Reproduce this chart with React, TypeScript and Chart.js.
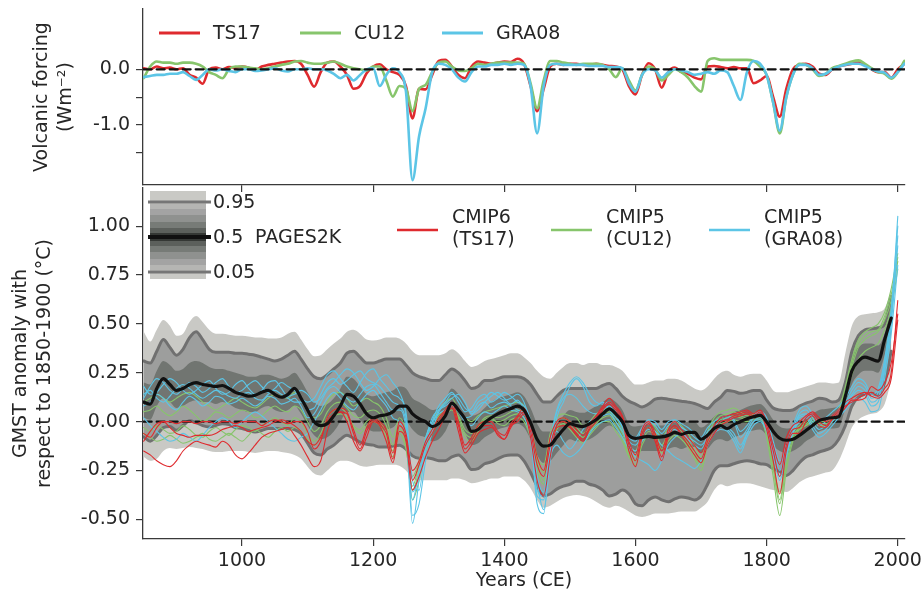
import React, { useEffect, useRef } from 'react';
import { Chart, registerables } from 'chart.js';
Chart.register(...registerables);

// ---------------- DATA ----------------
const xTicks = [1000, 1200, 1400, 1600, 1800, 2000];
const volcTicks = [-1.5, -1.0, -0.5, 0.0];
const gmstTicks = [-0.5, -0.25, 0, 0.25, 0.5, 0.75, 1.0];
const zeroYears = [850, 2010];
const zeroVals = [0, 0];

const volcLabels = ['TS17', 'CU12', 'GRA08'];
const cmipLabels = [['CMIP6', '(TS17)'], ['CMIP5', '(CU12)'], ['CMIP5', '(GRA08)']];
const pagesLabel = 'PAGES2K';
const pagesQuantLabels = ['0.95', '0.5', '0.05'];

const volcYears = [
  850, 860, 870, 880, 890,
  900, 910, 920, 930, 940, 950, 960, 970, 980, 990,
  1000, 1010, 1020, 1030, 1040, 1050, 1060, 1070, 1080, 1090,
  1100, 1110, 1120, 1130, 1140, 1150, 1160, 1170, 1180, 1190,
  1200, 1210, 1220, 1230, 1240, 1250, 1260, 1270, 1280, 1290,
  1300, 1310, 1320, 1330, 1340, 1350, 1360, 1370, 1380, 1390,
  1400, 1410, 1420, 1430, 1440, 1450, 1460, 1470, 1480, 1490,
  1500, 1510, 1520, 1530, 1540, 1550, 1560, 1570, 1580, 1590,
  1600, 1610, 1620, 1630, 1640, 1650, 1660, 1670, 1680, 1690,
  1700, 1710, 1720, 1730, 1740, 1750, 1760, 1770, 1780, 1790,
  1800, 1810, 1820, 1830, 1840, 1850, 1860, 1870, 1880, 1890,
  1900, 1910, 1920, 1930, 1940, 1950, 1960, 1970, 1980, 1990,
  2000, 2010,
];

const volcTS17 = [
  0.02, 0.0, 0.05, 0.02, 0.03,
  0.0, 0.02, -0.1, -0.15, -0.26, 0.0, 0.03, 0.0, 0.04, 0.03,
  0.05, 0.03, -0.02, 0.05, 0.08, 0.1, 0.12, 0.14, 0.15, 0.1,
  -0.1, -0.31, -0.05, 0.12, 0.14, 0.05, -0.1, -0.35, -0.3, -0.07,
  0.05, 0.09, 0.0, -0.05, -0.1, -0.3, -0.88, -0.35, -0.36, -0.1,
  0.15, 0.17, 0.05, -0.1, -0.16, 0.05, 0.14, 0.12, 0.1, 0.12,
  0.14, 0.13, 0.19, 0.1, -0.3, -0.75, -0.35, 0.05, 0.1, 0.08,
  0.1, 0.1, 0.08, 0.08, 0.1, 0.08, 0.06, 0.05, 0.0, -0.3,
  -0.45, -0.1, 0.11, 0.0, -0.33, -0.05, 0.03, -0.05, -0.08, -0.15,
  -0.18, 0.05, 0.06, 0.04, 0.02, 0.04, 0.02, 0.02, -0.25, -0.2,
  -0.12, -0.5, -0.85, -0.35, 0.0, 0.08, 0.1, 0.05, -0.08, -0.1,
  0.0, 0.05, 0.08, 0.1, 0.12, 0.08, 0.0, -0.05, -0.05, -0.15,
  0.0, 0.1,
];

const volcCU12 = [
  -0.16, 0.05, 0.14, 0.12, 0.12,
  0.1, 0.12, 0.12, 0.1, 0.05, -0.05, -0.1, -0.16, 0.0, 0.05,
  0.05, 0.03, 0.02, 0.0, 0.02, 0.05, 0.08, 0.1, 0.14, 0.15,
  0.12, 0.1, 0.1, 0.12, 0.14, 0.1, 0.05, 0.02, 0.0, -0.02,
  0.05, 0.05, -0.2, -0.49, -0.3, -0.35, -0.75, -0.35, -0.28, -0.05,
  0.12, 0.14, 0.05, -0.02, -0.03, 0.02, 0.1, 0.08, 0.1, 0.12,
  0.12, 0.12, 0.12, 0.1, -0.25, -0.7, -0.2, 0.15, 0.15, 0.12,
  0.1, 0.08, 0.1, 0.1, 0.1, 0.08, 0.0, -0.14, 0.02, -0.2,
  -0.38, -0.1, 0.05, 0.0, -0.2, -0.1, 0.0, -0.05, -0.15, -0.3,
  -0.4, 0.15, 0.2, 0.17, 0.17, 0.17, 0.17, 0.17, 0.15, 0.05,
  -0.1, -0.6, -1.15, -0.5, -0.1, 0.1, 0.08, 0.0, -0.12, -0.08,
  0.02, 0.06, 0.1, 0.14, 0.16, 0.1, 0.02, -0.05, -0.08, -0.17,
  -0.05, 0.15,
];

const volcGRA08 = [
  -0.14, -0.12, -0.1, -0.1, -0.08,
  -0.08, -0.05, -0.12, -0.19, -0.1, 0.0, -0.02, 0.0, -0.03, -0.05,
  0.0, 0.0, -0.03, -0.02, 0.0, 0.02, -0.02, -0.04, 0.0, 0.0,
  0.02, 0.0, 0.0, -0.02, -0.08, -0.16, -0.1, -0.2, -0.1, 0.0,
  0.02, -0.3, -0.1, 0.02, -0.05, -0.4, -1.99, -1.2, -0.7, -0.05,
  0.1, 0.08, 0.0, -0.15, -0.22, -0.05, 0.05, 0.05, 0.08, 0.08,
  0.1, 0.08, 0.1, 0.08, -0.3, -1.15, -0.3, 0.08, 0.1, 0.08,
  0.08, 0.08, 0.08, 0.06, 0.06, 0.06, 0.04, 0.04, 0.02, -0.25,
  -0.4, -0.1, 0.0, -0.02, -0.15, -0.05, 0.0, -0.02, -0.05, -0.1,
  -0.08, -0.05, -0.08, -0.02, -0.05, -0.3, -0.55, -0.05, 0.15, 0.1,
  -0.1, -0.6, -1.1, -0.5, -0.1, 0.08, 0.08, 0.02, -0.1, -0.08,
  0.0, 0.05, 0.08, 0.1, 0.1, 0.06, 0.0, -0.04, -0.06, -0.15,
  -0.05, 0.1,
];

const pagesYears = [
  850, 860, 870, 880, 890,
  900, 910, 920, 930, 940, 950, 960, 970, 980, 990,
  1000, 1010, 1020, 1030, 1040, 1050, 1060, 1070, 1080, 1090,
  1100, 1110, 1120, 1130, 1140, 1150, 1160, 1170, 1180, 1190,
  1200, 1210, 1220, 1230, 1240, 1250, 1260, 1270, 1280, 1290,
  1300, 1310, 1320, 1330, 1340, 1350, 1360, 1370, 1380, 1390,
  1400, 1410, 1420, 1430, 1440, 1450, 1460, 1470, 1480, 1490,
  1500, 1510, 1520, 1530, 1540, 1550, 1560, 1570, 1580, 1590,
  1600, 1610, 1620, 1630, 1640, 1650, 1660, 1670, 1680, 1690,
  1700, 1710, 1720, 1730, 1740, 1750, 1760, 1770, 1780, 1790,
  1800, 1810, 1820, 1830, 1840, 1850, 1860, 1870, 1880, 1890,
  1900, 1910, 1920, 1930, 1940, 1950, 1960, 1970, 1980, 1990,
];

const pagesMedian = [
  0.10, 0.09, 0.17, 0.22, 0.19,
  0.16, 0.17, 0.19, 0.20, 0.19, 0.185, 0.18, 0.185, 0.17, 0.15,
  0.14, 0.13, 0.135, 0.15, 0.16, 0.14, 0.125, 0.14, 0.17, 0.12,
  0.06, 0.0, -0.02, -0.01, 0.03, 0.08, 0.14, 0.13, 0.09, 0.04,
  0.02, 0.03, 0.035, 0.05, 0.08, 0.08, 0.04, 0.015, 0.0, -0.025,
  -0.01, 0.03, 0.095, 0.06, 0.015, -0.05, -0.04, -0.005, 0.02, 0.04,
  0.055, 0.067, 0.08, 0.06, -0.005, -0.09, -0.125, -0.12, -0.08, -0.04,
  -0.01, -0.02, -0.025, -0.01, 0.01, 0.04, 0.065, 0.04, 0.0, -0.07,
  -0.085, -0.08, -0.075, -0.08, -0.078, -0.07, -0.055, -0.065, -0.055, -0.055,
  -0.09, -0.07, -0.035, -0.02, -0.035, -0.015, 0.0, 0.015, 0.025, 0.032,
  0.0, -0.05, -0.085, -0.095, -0.09, -0.07, -0.045, -0.02, 0.005, 0.015,
  0.02, 0.025, 0.13, 0.26, 0.31, 0.33, 0.32, 0.31, 0.42, 0.53,
];

const pagesQ95 = [
  0.31, 0.30, 0.36, 0.42, 0.38,
  0.34, 0.37, 0.43, 0.46, 0.42, 0.37, 0.355, 0.355, 0.355, 0.35,
  0.35, 0.345, 0.34, 0.33, 0.32, 0.31, 0.32, 0.34, 0.36, 0.32,
  0.27, 0.23, 0.22, 0.24, 0.27, 0.30, 0.35, 0.36, 0.33, 0.30,
  0.30, 0.31, 0.32, 0.32, 0.32, 0.29, 0.25, 0.23, 0.22, 0.21,
  0.21, 0.24, 0.27, 0.25, 0.21, 0.17, 0.18, 0.21, 0.21, 0.22,
  0.23, 0.23, 0.23, 0.22, 0.19, 0.14, 0.10, 0.10, 0.13, 0.16,
  0.17, 0.17, 0.17, 0.17, 0.17, 0.185, 0.195, 0.17, 0.13, 0.105,
  0.09, 0.075, 0.09, 0.115, 0.12, 0.115, 0.11, 0.105, 0.10, 0.093,
  0.08, 0.067, 0.10, 0.125, 0.16, 0.155, 0.145, 0.15, 0.16, 0.16,
  0.11, 0.07, 0.06, 0.057, 0.06, 0.08, 0.095, 0.105, 0.12, 0.115,
  0.10, 0.11, 0.20, 0.36, 0.44, 0.47, 0.475, 0.48, 0.50, 0.64,
];

const pagesQ05 = [
  -0.078, -0.10, -0.07, -0.03, -0.025,
  -0.044, -0.02, 0.005, -0.005, -0.02, -0.027, -0.02, -0.01, -0.015, -0.03,
  -0.035, -0.045, -0.053, -0.045, -0.035, -0.035, -0.035, -0.035, -0.04, -0.06,
  -0.11, -0.16, -0.17, -0.14, -0.12, -0.09, -0.07, -0.085, -0.105, -0.115,
  -0.12, -0.13, -0.13, -0.125, -0.12, -0.14, -0.175, -0.187, -0.185, -0.19,
  -0.20, -0.20, -0.18, -0.17, -0.20, -0.245, -0.24, -0.215, -0.206, -0.19,
  -0.175, -0.17, -0.17, -0.20, -0.26, -0.33, -0.38, -0.37, -0.345, -0.33,
  -0.32, -0.305, -0.305, -0.32, -0.33, -0.35, -0.38, -0.37, -0.35, -0.37,
  -0.42, -0.43, -0.40, -0.385, -0.40, -0.41, -0.395, -0.385, -0.39, -0.40,
  -0.38, -0.32, -0.25, -0.225, -0.225, -0.215, -0.205, -0.20, -0.205, -0.215,
  -0.22, -0.24, -0.255, -0.275, -0.25, -0.21, -0.18, -0.17, -0.155, -0.145,
  -0.13, -0.09, -0.02, 0.08, 0.125, 0.14, 0.144, 0.135, 0.20, 0.36,
];

const pagesMax = [
  0.46, 0.41, 0.47, 0.52, 0.49,
  0.44, 0.45, 0.51, 0.54, 0.51, 0.47, 0.45, 0.45, 0.445, 0.44,
  0.44, 0.435, 0.43, 0.43, 0.425, 0.425, 0.43, 0.45, 0.46, 0.42,
  0.37, 0.335, 0.34, 0.37, 0.40, 0.425, 0.46, 0.47, 0.45, 0.42,
  0.415, 0.42, 0.43, 0.43, 0.425, 0.40, 0.36, 0.34, 0.34, 0.34,
  0.34, 0.35, 0.37, 0.35, 0.31, 0.28, 0.29, 0.31, 0.32, 0.33,
  0.34, 0.35, 0.35, 0.33, 0.30, 0.26, 0.23, 0.22, 0.25, 0.28,
  0.30, 0.30, 0.29, 0.30, 0.30, 0.29, 0.29, 0.28, 0.26, 0.22,
  0.19, 0.19, 0.20, 0.21, 0.21, 0.22, 0.22, 0.21, 0.19, 0.17,
  0.16, 0.18, 0.22, 0.25, 0.26, 0.24, 0.23, 0.24, 0.245, 0.245,
  0.21, 0.16, 0.15, 0.15, 0.16, 0.17, 0.18, 0.19, 0.20, 0.20,
  0.195, 0.20, 0.35, 0.49, 0.54, 0.55, 0.555, 0.56, 0.58, 0.67,
];

const pagesMin = [
  -0.18, -0.20, -0.19, -0.15, -0.135,
  -0.14, -0.135, -0.13, -0.135, -0.14, -0.15, -0.155, -0.155, -0.15, -0.15,
  -0.15, -0.155, -0.16, -0.155, -0.15, -0.15, -0.155, -0.16, -0.17, -0.19,
  -0.23, -0.265, -0.275, -0.25, -0.22, -0.20, -0.20, -0.21, -0.225, -0.23,
  -0.225, -0.22, -0.22, -0.22, -0.225, -0.25, -0.29, -0.30, -0.30, -0.30,
  -0.30, -0.30, -0.29, -0.29, -0.30, -0.315, -0.31, -0.30, -0.29, -0.29,
  -0.28, -0.28, -0.28, -0.30, -0.34, -0.40, -0.44, -0.43, -0.41, -0.39,
  -0.38, -0.375, -0.38, -0.39, -0.41, -0.43, -0.44, -0.43, -0.44, -0.46,
  -0.48, -0.487, -0.48, -0.47, -0.47, -0.47, -0.465, -0.46, -0.46, -0.46,
  -0.44, -0.41, -0.35, -0.32, -0.33, -0.32, -0.315, -0.315, -0.32, -0.33,
  -0.34, -0.35, -0.355, -0.36, -0.34, -0.31, -0.29, -0.28, -0.27, -0.26,
  -0.25, -0.20, -0.12, -0.03, 0.01, 0.03, 0.04, 0.05, 0.09, 0.21,
];

const pagesQ75 = [
  0.20, 0.19, 0.26, 0.31, 0.29,
  0.26, 0.27, 0.30, 0.31, 0.30, 0.28, 0.27, 0.27, 0.26, 0.25,
  0.24, 0.23, 0.23, 0.24, 0.24, 0.23, 0.22, 0.23, 0.25, 0.21,
  0.15, 0.10, 0.08, 0.09, 0.12, 0.17, 0.23, 0.22, 0.18, 0.14,
  0.13, 0.14, 0.15, 0.16, 0.18, 0.17, 0.12, 0.10, 0.08, 0.06,
  0.07, 0.11, 0.17, 0.14, 0.09, 0.03, 0.04, 0.07, 0.10, 0.12,
  0.13, 0.14, 0.15, 0.13, 0.07, -0.01, -0.05, -0.05, -0.01, 0.03,
  0.06, 0.05, 0.045, 0.06, 0.08, 0.10, 0.12, 0.10, 0.06, -0.01,
  -0.025, -0.02, -0.015, -0.02, -0.02, -0.01, 0.0, -0.01, 0.0, 0.0,
  -0.03, -0.01, 0.025, 0.04, 0.03, 0.05, 0.06, 0.075, 0.085, 0.09,
  0.06, 0.01, -0.025, -0.035, -0.03, -0.01, 0.015, 0.04, 0.06, 0.065,
  0.07, 0.08, 0.18, 0.33, 0.38, 0.40, 0.40, 0.39, 0.45, 0.59,
];

const pagesQ25 = [
  0.02, 0.01, 0.08, 0.12, 0.10,
  0.07, 0.08, 0.10, 0.11, 0.10, 0.10, 0.09, 0.10, 0.09, 0.07,
  0.06, 0.05, 0.05, 0.07, 0.08, 0.06, 0.05, 0.06, 0.08, 0.04,
  -0.02, -0.07, -0.09, -0.08, -0.05, 0.0, 0.05, 0.05, 0.01, -0.03,
  -0.05, -0.05, -0.04, -0.03, 0.0, 0.0, -0.04, -0.07, -0.08, -0.10,
  -0.09, -0.05, 0.01, -0.02, -0.06, -0.12, -0.11, -0.08, -0.06, -0.04,
  -0.03, -0.02, -0.01, -0.03, -0.09, -0.17, -0.21, -0.20, -0.16, -0.12,
  -0.09, -0.10, -0.10, -0.09, -0.07, -0.04, -0.02, -0.04, -0.08, -0.14,
  -0.16, -0.15, -0.15, -0.15, -0.15, -0.14, -0.13, -0.14, -0.13, -0.13,
  -0.16, -0.14, -0.10, -0.09, -0.10, -0.08, -0.07, -0.05, -0.045, -0.04,
  -0.07, -0.12, -0.15, -0.16, -0.15, -0.13, -0.10, -0.08, -0.05, -0.04,
  -0.035, -0.03, 0.07, 0.19, 0.24, 0.26, 0.26, 0.25, 0.34, 0.46,
];

const memberYears = [
  850, 860, 870, 880, 890,
  900, 910, 920, 930, 940, 950, 960, 970, 980, 990,
  1000, 1010, 1020, 1030, 1040, 1050, 1060, 1070, 1080, 1090,
  1100, 1110, 1120, 1130, 1140, 1150, 1160, 1170, 1180, 1190,
  1200, 1210, 1220, 1230, 1240, 1250, 1260, 1270, 1280, 1290,
  1300, 1310, 1320, 1330, 1340, 1350, 1360, 1370, 1380, 1390,
  1400, 1410, 1420, 1430, 1440, 1450, 1460, 1470, 1480, 1490,
  1500, 1510, 1520, 1530, 1540, 1550, 1560, 1570, 1580, 1590,
  1600, 1610, 1620, 1630, 1640, 1650, 1660, 1670, 1680, 1690,
  1700, 1710, 1720, 1730, 1740, 1750, 1760, 1770, 1780, 1790,
  1800, 1810, 1820, 1830, 1840, 1850, 1860, 1870, 1880, 1890,
  1900, 1910, 1920, 1930, 1940, 1950, 1960, 1970, 1980, 1990, 2000,
];

const cmip6TS17 = [
  [
    -0.15, -0.17, -0.20, -0.22, -0.23,
    -0.20, -0.15, -0.12, -0.10, -0.11, -0.12, -0.13, -0.10, -0.12, -0.17,
    -0.19, -0.16, -0.12, -0.08, -0.06, -0.05, -0.04, -0.03, -0.07, -0.12,
    -0.18, -0.23, -0.20, -0.05, 0.03, 0.05, 0.0, -0.10, -0.15, -0.08,
    0.0, -0.02, -0.10, -0.21, -0.05, -0.10, -0.35, -0.28, -0.18, -0.10,
    -0.04, 0.03, 0.07, -0.05, -0.16, -0.12, -0.06, -0.04, -0.03, -0.06,
    -0.09, -0.02, 0.0, 0.04, -0.08, -0.30, -0.38, -0.18, -0.03, -0.02,
    -0.03, -0.07, -0.10, -0.04, 0.0, 0.06, 0.09, 0.06, 0.0, -0.15,
    -0.23, -0.08, -0.03, -0.10, -0.20, -0.08, -0.03, -0.07, -0.12, -0.17,
    -0.21, -0.12, -0.06, -0.02, 0.0, 0.02, 0.03, 0.04, 0.02, 0.04,
    -0.04, -0.20, -0.37, -0.15, -0.06, -0.06, 0.0, 0.03, -0.02, -0.03,
    0.01, 0.04, 0.07, 0.11, 0.11, 0.12, 0.18, 0.16, 0.20, 0.30, 0.55,
  ],
  [
    -0.06, -0.08, -0.03, 0.0, -0.03,
    -0.06, -0.07, -0.08, -0.07, -0.07, -0.07, -0.06, -0.04, -0.03, -0.02,
    -0.03, -0.05, -0.04, -0.03, -0.02, 0.0, 0.01, 0.0, -0.02, -0.05,
    -0.10, -0.12, -0.08, 0.0, 0.04, 0.05, 0.04, -0.06, -0.14, -0.05,
    0.01, -0.01, -0.06, -0.19, -0.02, -0.08, -0.30, -0.22, -0.12, -0.06,
    0.0, 0.05, 0.08, -0.02, -0.14, -0.10, -0.04, -0.02, -0.02, -0.07,
    -0.09, -0.03, 0.02, 0.05, -0.05, -0.22, -0.28, -0.12, -0.02, 0.0,
    -0.02, -0.06, -0.09, -0.03, 0.02, 0.07, 0.10, 0.07, 0.02, -0.12,
    -0.20, -0.06, -0.01, -0.08, -0.18, -0.06, -0.02, -0.06, -0.10, -0.15,
    -0.19, -0.10, -0.04, 0.0, 0.01, 0.03, 0.04, 0.05, 0.03, 0.05,
    -0.02, -0.15, -0.28, -0.12, -0.04, -0.03, 0.02, 0.04, 0.0, -0.02,
    0.02, 0.05, 0.08, 0.10, 0.12, 0.14, 0.15, 0.13, 0.17, 0.25, 0.62,
  ],
  [
    -0.10, -0.05, -0.01, 0.0, 0.0,
    -0.01, 0.0, 0.0, -0.01, 0.0, 0.0, -0.01, 0.0, 0.0, -0.01,
    0.0, 0.0, 0.0, -0.02, 0.0, 0.01, 0.0, -0.01, 0.0, 0.0,
    -0.05, -0.14, -0.10, 0.02, 0.06, 0.07, 0.05, -0.04, -0.12, -0.03,
    0.02, 0.0, -0.04, -0.16, 0.0, -0.06, -0.25, -0.20, -0.10, -0.04,
    0.02, 0.06, 0.10, 0.0, -0.12, -0.08, -0.02, 0.0, 0.0, -0.05,
    -0.07, -0.01, 0.03, 0.07, -0.02, -0.18, -0.25, -0.08, 0.0, 0.02,
    0.0, -0.04, -0.07, -0.01, 0.03, 0.08, 0.12, 0.08, 0.03, -0.10,
    -0.17, -0.04, 0.0, -0.06, -0.15, -0.04, 0.0, -0.04, -0.08, -0.12,
    -0.16, -0.08, -0.02, 0.02, 0.03, 0.04, 0.05, 0.06, 0.04, 0.06,
    0.0, -0.12, -0.22, -0.08, -0.02, 0.0, 0.03, 0.05, 0.02, 0.0,
    0.03, 0.06, 0.10, 0.12, 0.14, 0.15, 0.13, 0.12, 0.15, 0.22, 0.52,
  ],
];

const cmip5CU12 = [
  [
    0.10, 0.12, 0.14, 0.12, 0.10,
    0.12, 0.14, 0.15, 0.13, 0.10, 0.08, 0.06, 0.08, 0.10, 0.12,
    0.10, 0.08, 0.07, 0.09, 0.12, 0.14, 0.13, 0.12, 0.15, 0.12,
    0.06, 0.02, 0.04, 0.10, 0.14, 0.15, 0.12, 0.08, 0.10, 0.12,
    0.10, 0.08, 0.02, -0.08, 0.02, -0.05, -0.28, -0.20, -0.08, 0.0,
    0.06, 0.10, 0.12, 0.06, 0.02, 0.0, 0.03, 0.05, 0.06, 0.07,
    0.08, 0.09, 0.10, 0.08, 0.0, -0.18, -0.22, -0.06, 0.02, 0.04,
    0.03, 0.02, -0.02, 0.0, 0.04, 0.06, 0.07, 0.02, -0.04, -0.12,
    -0.15, -0.05, 0.0, -0.03, -0.08, -0.03, 0.0, -0.02, -0.06, -0.12,
    -0.18, -0.05, 0.02, 0.05, 0.06, 0.07, 0.05, 0.03, 0.04, 0.05,
    -0.04, -0.20, -0.40, -0.18, -0.06, -0.02, 0.0, 0.02, 0.0, 0.0,
    0.02, 0.06, 0.18, 0.32, 0.42, 0.46, 0.48, 0.50, 0.56, 0.68, 0.86,
  ],
  [
    0.05, 0.06, 0.08, 0.05, 0.03,
    0.05, 0.08, 0.06, 0.03, 0.0, 0.02, 0.05, 0.04, 0.02, 0.04,
    0.06, 0.05, 0.02, 0.03, 0.06, 0.08, 0.06, 0.05, 0.08, 0.06,
    0.0, -0.05, -0.02, 0.05, 0.09, 0.10, 0.07, 0.03, 0.02, 0.05,
    0.06, 0.04, -0.02, -0.12, -0.02, -0.10, -0.35, -0.25, -0.12, -0.04,
    0.02, 0.06, 0.08, 0.03, -0.04, -0.06, -0.02, 0.02, 0.03, 0.02,
    0.03, 0.05, 0.06, 0.05, -0.04, -0.22, -0.30, -0.10, 0.0, 0.02,
    0.0, -0.03, -0.06, -0.03, 0.01, 0.04, 0.05, 0.0, -0.06, -0.15,
    -0.18, -0.08, -0.03, -0.05, -0.12, -0.06, -0.03, -0.05, -0.09, -0.15,
    -0.21, -0.08, 0.0, 0.03, 0.04, 0.05, 0.03, 0.02, 0.03, 0.03,
    -0.08, -0.28, -0.48, -0.25, -0.10, -0.04, -0.02, 0.0, -0.02, -0.02,
    0.0, 0.05, 0.15, 0.28, 0.38, 0.42, 0.44, 0.46, 0.52, 0.62, 0.82,
  ],
  [
    -0.03, -0.05, -0.02, -0.04, -0.06,
    -0.05, -0.02, -0.04, -0.07, -0.08, -0.05, -0.03, -0.05, -0.07, -0.04,
    -0.02, -0.03, -0.05, -0.02, 0.0, 0.02, 0.0, -0.02, 0.02, 0.0,
    -0.06, -0.10, -0.06, 0.02, 0.06, 0.07, 0.04, -0.02, -0.04, 0.0,
    0.02, 0.0, -0.06, -0.15, -0.04, -0.12, -0.40, -0.30, -0.15, -0.06,
    0.0, 0.04, 0.06, 0.0, -0.08, -0.10, -0.05, 0.0, 0.01, 0.0,
    0.01, 0.03, 0.04, 0.02, -0.07, -0.25, -0.32, -0.14, -0.03, 0.0,
    -0.02, -0.05, -0.08, -0.05, -0.01, 0.02, 0.03, -0.02, -0.08, -0.17,
    -0.20, -0.10, -0.05, -0.07, -0.14, -0.08, -0.05, -0.07, -0.11, -0.17,
    -0.23, -0.10, -0.02, 0.01, 0.02, 0.03, 0.02, 0.01, 0.02, 0.02,
    -0.06, -0.24, -0.42, -0.22, -0.08, -0.03, -0.01, 0.01, -0.01, -0.01,
    0.01, 0.06, 0.16, 0.30, 0.40, 0.44, 0.46, 0.47, 0.54, 0.65, 0.84,
  ],
  [
    -0.06, -0.08, -0.10, -0.09, -0.07,
    -0.09, -0.11, -0.10, -0.08, -0.06, -0.09, -0.10, -0.08, -0.06, -0.08,
    -0.10, -0.07, -0.04, -0.06, -0.08, -0.05, -0.03, -0.05, -0.03, -0.05,
    -0.09, -0.12, -0.08, 0.0, 0.03, 0.04, 0.02, -0.03, -0.06, -0.02,
    0.0, -0.02, -0.08, -0.18, -0.06, -0.14, -0.33, -0.22, -0.10, -0.03,
    0.03, 0.06, 0.09, 0.02, -0.06, -0.08, -0.03, 0.01, 0.02, -0.01,
    -0.02, 0.01, 0.02, 0.0, -0.08, -0.20, -0.26, -0.12, -0.04, -0.01,
    -0.04, -0.08, -0.11, -0.07, -0.03, 0.0, 0.0, -0.05, -0.10, -0.18,
    -0.22, -0.12, -0.07, -0.09, -0.16, -0.10, -0.07, -0.09, -0.13, -0.19,
    -0.25, -0.12, -0.04, -0.01, 0.0, 0.01, 0.0, 0.0, 0.01, 0.01,
    -0.07, -0.22, -0.36, -0.18, -0.07, -0.04, -0.02, 0.0, -0.02, -0.03,
    0.0, 0.04, 0.12, 0.24, 0.32, 0.36, 0.38, 0.40, 0.47, 0.58, 0.78,
  ],
];

const cmip5GRA08 = [
  [
    0.12, 0.18, 0.22, 0.20, 0.16,
    0.14, 0.17, 0.20, 0.18, 0.15, 0.17, 0.20, 0.22, 0.18, 0.15,
    0.16, 0.19, 0.21, 0.18, 0.15, 0.17, 0.20, 0.18, 0.16, 0.12,
    0.10, 0.12, 0.18, 0.24, 0.26, 0.22, 0.18, 0.15, 0.20, 0.25,
    0.27, 0.22, 0.18, 0.14, 0.12, 0.05, -0.30, -0.35, -0.12, 0.0,
    0.08, 0.12, 0.15, 0.10, 0.05, 0.07, 0.12, 0.14, 0.10, 0.12,
    0.15, 0.13, 0.10, 0.08, 0.0, -0.30, -0.45, -0.20, 0.02, 0.10,
    0.18, 0.22, 0.18, 0.10, 0.08, 0.10, 0.06, 0.02, -0.02, -0.08,
    -0.10, -0.04, 0.0, -0.02, -0.06, -0.02, 0.0, -0.03, -0.05, -0.08,
    -0.10, -0.05, -0.02, 0.0, 0.02, 0.0, -0.08, -0.04, 0.02, 0.04,
    0.0, -0.12, -0.25, -0.15, -0.04, 0.04, 0.06, 0.02, -0.02, 0.0,
    0.03, 0.06, 0.10, 0.16, 0.20, 0.18, 0.12, 0.15, 0.30, 0.55, 1.05,
  ],
  [
    0.18, 0.14, 0.15, 0.19, 0.22,
    0.20, 0.16, 0.14, 0.16, 0.19, 0.21, 0.17, 0.14, 0.15, 0.19,
    0.21, 0.17, 0.14, 0.16, 0.20, 0.21, 0.17, 0.13, 0.14, 0.16,
    0.14, 0.10, 0.12, 0.17, 0.20, 0.24, 0.27, 0.25, 0.20, 0.16,
    0.18, 0.22, 0.24, 0.20, 0.15, 0.02, -0.48, -0.42, -0.20, -0.05,
    0.05, 0.09, 0.12, 0.14, 0.10, 0.04, 0.06, 0.10, 0.13, 0.15,
    0.12, 0.09, 0.11, 0.06, -0.05, -0.38, -0.40, -0.12, 0.05, 0.12,
    0.14, 0.12, 0.08, 0.05, 0.04, 0.06, 0.08, 0.04, -0.03, -0.10,
    -0.12, -0.07, -0.04, -0.05, -0.08, -0.05, -0.04, -0.06, -0.09, -0.12,
    -0.14, -0.08, -0.03, -0.02, -0.03, -0.06, -0.12, -0.06, 0.0, 0.02,
    -0.03, -0.16, -0.30, -0.18, -0.06, 0.02, 0.03, -0.02, -0.06, -0.04,
    0.0, 0.04, 0.08, 0.13, 0.16, 0.14, 0.08, 0.10, 0.26, 0.50, 0.90,
  ],
  [
    0.08, 0.10, 0.14, 0.12, 0.08,
    0.06, 0.10, 0.13, 0.11, 0.08, 0.10, 0.13, 0.12, 0.09, 0.10,
    0.12, 0.10, 0.08, 0.10, 0.13, 0.12, 0.09, 0.10, 0.12, 0.08,
    0.02, 0.04, 0.10, 0.16, 0.18, 0.15, 0.12, 0.10, 0.14, 0.18,
    0.19, 0.15, 0.10, 0.06, 0.06, -0.04, -0.52, -0.30, -0.10, 0.02,
    0.06, 0.08, 0.10, 0.06, 0.02, 0.03, 0.08, 0.10, 0.07, 0.09,
    0.10, 0.08, 0.06, 0.04, -0.06, -0.42, -0.47, -0.15, -0.05, -0.10,
    -0.14, -0.10, -0.04, 0.0, 0.02, 0.03, 0.04, 0.0, -0.05, -0.12,
    -0.15, -0.10, -0.07, -0.08, -0.12, -0.15, -0.18, -0.20, -0.22, -0.24,
    -0.20, -0.12, -0.06, -0.04, -0.05, -0.10, -0.16, -0.08, -0.02, 0.0,
    -0.05, -0.18, -0.28, -0.16, -0.06, 0.0, 0.02, -0.04, -0.08, -0.06,
    -0.02, 0.02, 0.06, 0.10, 0.12, 0.10, 0.05, 0.06, 0.22, 0.45, 0.80,
  ],
  [
    0.02, -0.02, -0.05, -0.08, -0.10,
    -0.09, -0.06, -0.08, -0.10, -0.07, -0.03, 0.0, 0.02, 0.0, -0.03,
    0.0, 0.03, 0.05, 0.03, 0.0, -0.03, -0.06, -0.09, -0.10, -0.08,
    -0.06, 0.0, 0.06, 0.12, 0.15, 0.12, 0.08, 0.06, 0.10, 0.14,
    0.16, 0.12, 0.08, 0.02, 0.0, -0.08, -0.40, -0.25, -0.08, 0.0,
    0.04, 0.06, 0.08, 0.05, 0.0, -0.02, 0.02, 0.05, 0.04, 0.06,
    0.08, 0.06, 0.05, 0.02, -0.08, -0.35, -0.38, -0.18, -0.12, -0.16,
    -0.18, -0.16, -0.12, -0.06, -0.02, 0.0, 0.01, -0.03, -0.08, -0.14,
    -0.18, -0.20, -0.22, -0.25, -0.20, -0.12, -0.08, -0.06, -0.08, -0.10,
    -0.12, -0.08, -0.04, -0.03, -0.04, -0.08, -0.14, -0.06, 0.0, 0.01,
    -0.04, -0.14, -0.22, -0.12, -0.03, 0.03, 0.04, 0.0, -0.04, -0.02,
    0.01, 0.05, 0.09, 0.14, 0.18, 0.16, 0.10, 0.12, 0.28, 0.52, 0.95,
  ],
  [
    0.14, 0.16, 0.12, 0.10, 0.13,
    0.17, 0.19, 0.17, 0.14, 0.12, 0.14, 0.16, 0.15, 0.13, 0.12,
    0.14, 0.15, 0.12, 0.11, 0.14, 0.16, 0.14, 0.12, 0.10, 0.10,
    0.06, 0.07, 0.14, 0.20, 0.22, 0.19, 0.21, 0.24, 0.26, 0.22,
    0.20, 0.18, 0.14, 0.10, 0.08, 0.0, -0.36, -0.28, -0.15, -0.02,
    0.06, 0.10, 0.14, 0.12, 0.07, 0.05, 0.10, 0.12, 0.15, 0.13,
    0.11, 0.12, 0.14, 0.10, -0.02, -0.28, -0.36, -0.10, 0.06, 0.14,
    0.20, 0.23, 0.20, 0.14, 0.10, 0.09, 0.10, 0.06, 0.0, -0.06,
    -0.08, -0.03, 0.01, 0.0, -0.04, 0.0, 0.01, -0.01, -0.03, -0.06,
    -0.08, -0.03, 0.0, 0.02, 0.03, 0.01, -0.05, -0.02, 0.03, 0.05,
    0.02, -0.10, -0.20, -0.12, -0.02, 0.06, 0.08, 0.04, 0.0, 0.02,
    0.05, 0.08, 0.12, 0.18, 0.22, 0.20, 0.14, 0.17, 0.32, 0.58, 1.0,
  ],
];

// ---------------- STYLE ----------------
const FAMILY = '"DejaVu Sans", "Liberation Sans", sans-serif';
const FS = 19;
const TEXT = '#262626';
const AXIS = '#3a3a3a';
const RED = '#df2a2e';
const GREEN = '#87c56c';
const BLUE = '#5cc5e6';
const W = 924;
const H = 603;
const PLOT_L = 143;
const PAD_R = 19;

const pts = (xs: number[], ys: number[]) => xs.map((x, i) => ({ x, y: ys[i] }));
const font = (size = FS, lineHeight = 1.2) => ({ family: FAMILY, size, lineHeight });

function xScale(showLabels: boolean, height: number) {
  return {
    type: 'linear',
    min: 849,
    max: 2011,
    afterBuildTicks: (s: any) => { s.ticks = xTicks.map((v) => ({ value: v })); },
    afterFit: (s: any) => { s.height = height; s.paddingLeft = 0; s.paddingRight = 0; },
    ticks: {
      display: showLabels,
      autoSkip: false,
      maxRotation: 0,
      padding: 4,
      color: TEXT,
      font: font(),
      callback: (v: any) => String(v),
    },
    grid: { display: true, drawOnChartArea: false, drawTicks: true, tickLength: 7, color: AXIS, lineWidth: 1.2 },
    border: { display: true, color: AXIS, width: 1.3 },
    title: showLabels
      ? { display: true, text: 'Years (CE)', color: TEXT, font: font(FS, 1.25), padding: { top: 0, bottom: 10 } }
      : { display: false },
  };
}

function yScale(min: number, max: number, ticks: number[], fmt: (v: number) => string, title: string[], titlePad: number) {
  return {
    type: 'linear',
    min,
    max,
    afterBuildTicks: (s: any) => { s.ticks = ticks.map((v) => ({ value: v })); },
    afterFit: (s: any) => { s.width = PLOT_L; s.paddingTop = 0; s.paddingBottom = 0; },
    ticks: { padding: 6, color: TEXT, font: font(), callback: (v: any) => fmt(Number(v)) },
    grid: { display: true, drawOnChartArea: false, drawTicks: true, tickLength: 7, color: AXIS, lineWidth: 1.2 },
    border: { display: true, color: AXIS, width: 1.3 },
    title: { display: true, text: title, color: TEXT, font: font(FS, 1.25), padding: { top: titlePad, bottom: 0 } },
  };
}

const lineDs = (data: any, color: string, width: number, order: number, extra: any = {}) => ({
  data,
  borderColor: color,
  backgroundColor: color,
  borderWidth: width,
  pointRadius: 0,
  fill: false,
  order,
  cubicInterpolationMode: 'monotone',
  borderJoinStyle: 'round',
  borderCapStyle: 'round',
  ...extra,
});

const topLegendPlugin = {
  id: 'topLegend',
  afterDraw(chart: any) {
    const ctx = chart.ctx;
    const colors = [RED, GREEN, BLUE];
    const starts = [159, 300, 442];
    ctx.save();
    ctx.font = `${FS}px ${FAMILY}`;
    ctx.textBaseline = 'middle';
    ctx.textAlign = 'left';
    volcLabels.forEach((lab, i) => {
      ctx.strokeStyle = colors[i];
      ctx.lineWidth = 2.8;
      ctx.beginPath();
      ctx.moveTo(starts[i], 33);
      ctx.lineTo(starts[i] + 41, 33);
      ctx.stroke();
      ctx.fillStyle = TEXT;
      ctx.fillText(lab, starts[i] + 54, 34);
    });
    ctx.restore();
  },
};

const bottomLegendPlugin = {
  id: 'bottomLegend',
  afterDraw(chart: any) {
    const ctx = chart.ctx;
    ctx.save();
    const stripes: [number, number, string][] = [
      [191, 204, '#c9c9c5'], [204, 209, '#b5b5b3'], [209, 215, '#a3a3a3'], [215, 222, '#8f918f'],
      [222, 228, '#777b77'], [228, 233, '#5c605c'], [233, 241, '#353835'],
      [241, 246, '#5c605c'], [246, 252, '#777b77'], [252, 259, '#8f918f'], [259, 265, '#a3a3a3'],
      [265, 270, '#b5b5b3'], [270, 279, '#c9c9c5'],
    ];
    stripes.forEach(([a, b, c]) => { ctx.fillStyle = c; ctx.fillRect(150, a, 56, b - a); });
    const qy = [202, 237, 272];
    qy.forEach((y, i) => {
      ctx.strokeStyle = i === 1 ? '#111111' : '#767676';
      ctx.lineWidth = i === 1 ? 4 : 3;
      ctx.beginPath();
      ctx.moveTo(148, y);
      ctx.lineTo(211, y);
      ctx.stroke();
    });
    ctx.font = `${FS}px ${FAMILY}`;
    ctx.textBaseline = 'middle';
    ctx.textAlign = 'left';
    ctx.fillStyle = TEXT;
    pagesQuantLabels.forEach((t, i) => ctx.fillText(t, 213, qy[i] + 1));
    ctx.fillText(pagesLabel, 255, 238);
    const colors = [RED, GREEN, BLUE];
    const starts = [397, 551, 709];
    cmipLabels.forEach((lines, i) => {
      ctx.strokeStyle = colors[i];
      ctx.lineWidth = 2.6;
      ctx.beginPath();
      ctx.moveTo(starts[i], 230);
      ctx.lineTo(starts[i] + 41, 230);
      ctx.stroke();
      ctx.fillStyle = TEXT;
      ctx.fillText(lines[0], starts[i] + 55, 218);
      ctx.fillText(lines[1], starts[i] + 55, 240);
    });
    ctx.restore();
  },
};

export default function App() {
  const topRef = useRef<HTMLCanvasElement | null>(null);
  const botRef = useRef<HTMLCanvasElement | null>(null);

  useEffect(() => {
    const common = {
      animation: false,
      responsive: false,
      devicePixelRatio: 1,
      events: [],
      plugins: { legend: { display: false }, tooltip: { enabled: false } },
    };

    const top = new Chart(topRef.current as HTMLCanvasElement, {
      type: 'line',
      data: {
        datasets: [
          lineDs(pts(zeroYears, zeroVals), '#111111', 2.2, 0, { borderDash: [8, 5], cubicInterpolationMode: 'default', tension: 0 }),
          lineDs(pts(volcYears, volcGRA08), BLUE, 2.6, 1),
          lineDs(pts(volcYears, volcCU12), GREEN, 2.6, 2),
          lineDs(pts(volcYears, volcTS17), RED, 2.6, 3),
        ],
      },
      options: {
        ...common,
        layout: { padding: { top: 9, right: PAD_R, left: 0, bottom: 0 } },
        scales: {
          x: xScale(false, H - 185),
          y: yScale(-2.077, 1.083, volcTicks, (v) => (v === 0 ? '0.0' : v === -1 ? '-1.0' : ''), ['Volcanic forcing', '(Wm\u207B\u00B2)'], 30),
        },
      },
      plugins: [topLegendPlugin],
    } as any);

    const memberDs: any[] = [];
    let ord = 50;
    cmip5CU12.forEach((m) => memberDs.push(lineDs(pts(memberYears, m), GREEN, 1.1, ord--)));
    cmip5GRA08.forEach((m) => memberDs.push(lineDs(pts(memberYears, m), BLUE, 1.1, ord--)));
    cmip6TS17.forEach((m) => memberDs.push(lineDs(pts(memberYears, m), RED, 1.1, ord--)));

    const bot = new Chart(botRef.current as HTMLCanvasElement, {
      type: 'line',
      data: {
        datasets: [
          lineDs(pts(pagesYears, pagesMax), 'rgba(0,0,0,0)', 0, 100, { fill: 1, backgroundColor: '#c9c9c5' }),
          lineDs(pts(pagesYears, pagesMin), 'rgba(0,0,0,0)', 0, 99),
          lineDs(pts(pagesYears, pagesQ95), '#707070', 3, 98, { fill: 3, backgroundColor: '#9d9e9d' }),
          lineDs(pts(pagesYears, pagesQ05), '#707070', 3, 97),
          lineDs(pts(pagesYears, pagesQ75), 'rgba(0,0,0,0)', 0, 96, { fill: 5, backgroundColor: '#717571' }),
          lineDs(pts(pagesYears, pagesQ25), 'rgba(0,0,0,0)', 0, 95),
          lineDs(pts(zeroYears, zeroVals), '#111111', 2.2, 60, { borderDash: [8, 5], cubicInterpolationMode: 'default', tension: 0 }),
          ...memberDs,
          lineDs(pts(pagesYears, pagesMedian), '#111111', 3.2, 0),
        ],
      },
      options: {
        ...common,
        layout: { padding: { top: 188, right: PAD_R, left: 0, bottom: 0 } },
        scales: {
          x: xScale(true, H - 539),
          y: yScale(-0.6, 1.195, gmstTicks, (v) => v.toFixed(2), ['GMST anomaly with', 'respect to 1850-1900 (\u00B0C)'], 9),
        },
      },
      plugins: [bottomLegendPlugin],
    } as any);

    return () => {
      top.destroy();
      bot.destroy();
    };
  }, []);

  return (
    <div style={{ position: 'fixed', left: 0, top: 0, width: W, height: H, background: '#ffffff' }}>
      <canvas ref={botRef} width={W} height={H} style={{ position: 'absolute', left: 0, top: 0, width: W, height: H }} />
      <canvas ref={topRef} width={W} height={H} style={{ position: 'absolute', left: 0, top: 0, width: W, height: H }} />
    </div>
  );
}
